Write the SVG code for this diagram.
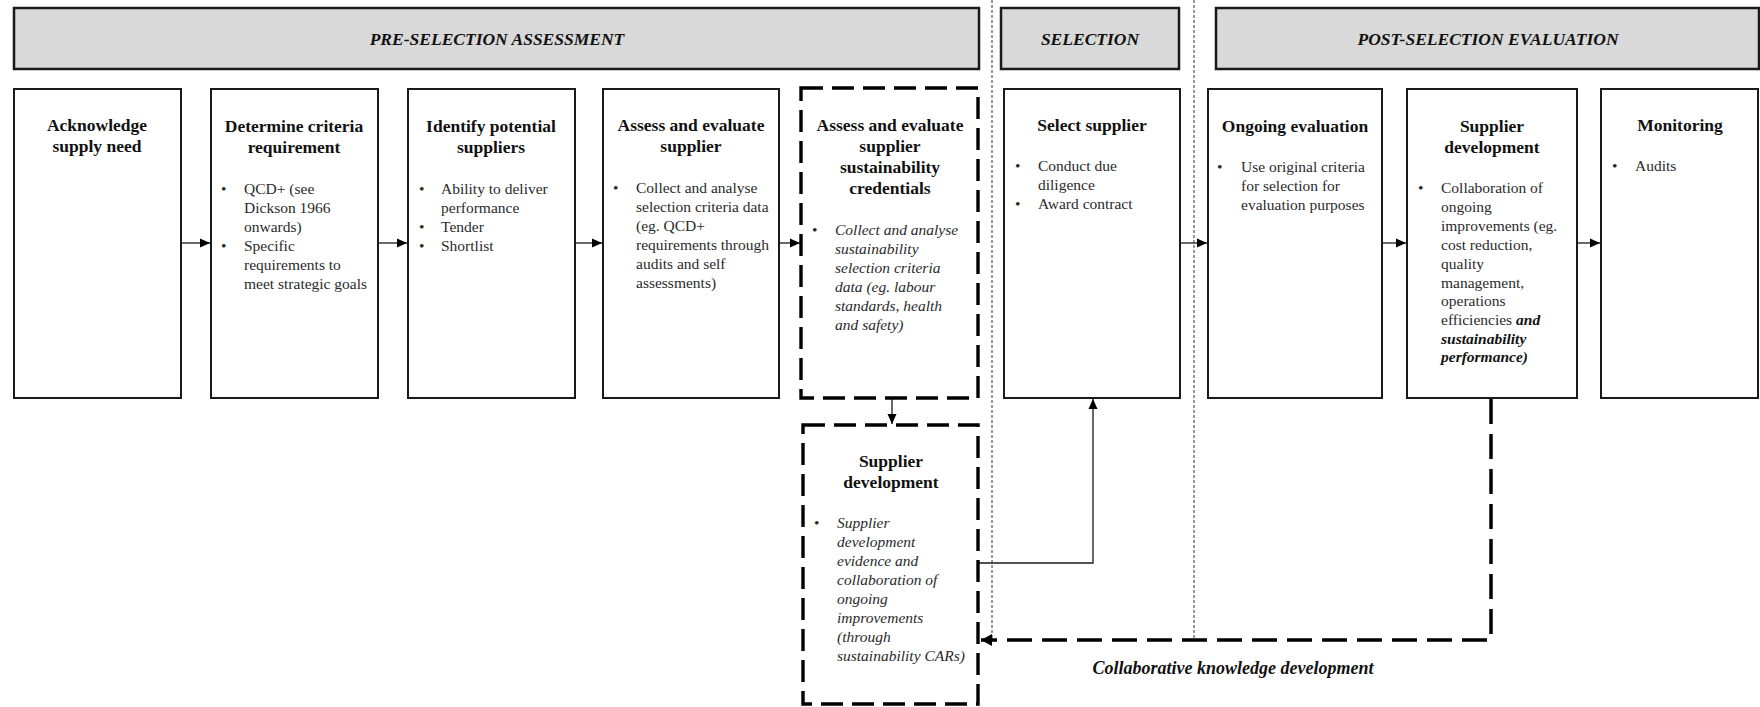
<svg xmlns="http://www.w3.org/2000/svg" width="1760" height="707" viewBox="0 0 1760 707">
<defs>
<style>
.hdr{fill:#d9d9d9;stroke:#1a1a1a;stroke-width:2.5}
.box{fill:#fff;stroke:#1a1a1a;stroke-width:2}
.dbox{fill:#fff;stroke:#000;stroke-width:3.4;stroke-dasharray:22 9}
.ht{font-family:"Liberation Serif",serif;font-size:17.5px;font-weight:bold;font-style:italic;fill:#111;text-anchor:middle}
.t{font-family:"Liberation Serif",serif;font-size:17.5px;font-weight:bold;fill:#111;text-anchor:middle}
.b{font-family:"Liberation Serif",serif;font-size:15.5px;fill:#2a2a2a}
.i{font-style:italic}
.bi{font-weight:bold;font-style:italic;fill:#111}
.lbl{font-family:"Liberation Serif",serif;font-size:18px;font-weight:bold;font-style:italic;fill:#111;text-anchor:middle}
.ln{fill:none;stroke:#1a1a1a;stroke-width:1.3}
.fb{fill:none;stroke:#000;stroke-width:3.5;stroke-dasharray:25 10}
.dot{fill:none;stroke:#333;stroke-width:1;stroke-dasharray:3 2}
</style>
<marker id="ah" markerUnits="userSpaceOnUse" markerWidth="12" markerHeight="12" refX="10" refY="6" orient="auto">
<path d="M0,1.5 L10,6 L0,10.5 z" fill="#000"/>
</marker>
<marker id="ahb" markerUnits="userSpaceOnUse" markerWidth="12" markerHeight="14" refX="11" refY="7" orient="auto">
<path d="M0,1 L11,7 L0,13 z" fill="#000"/>
</marker>
</defs>
<rect width="1760" height="707" fill="#fff"/>

<g id="dividers">
<line class="dot" x1="992" y1="0" x2="992" y2="640"/>
<line class="dot" x1="1194" y1="0" x2="1194" y2="640"/>
</g>

<g id="header-pre">
<rect class="hdr" x="14" y="8" width="965" height="61"/>
<text class="ht" x="497" y="45">PRE-SELECTION ASSESSMENT</text>
</g>
<g id="header-sel">
<rect class="hdr" x="1001" y="8" width="178" height="61"/>
<text class="ht" x="1090" y="45">SELECTION</text>
</g>
<g id="header-post">
<rect class="hdr" x="1216" y="8" width="543" height="61"/>
<text class="ht" x="1488" y="45">POST-SELECTION EVALUATION</text>
</g>

<g id="connectors">
<line class="ln" x1="181" y1="243" x2="210" y2="243" marker-end="url(#ah)"/>
<line class="ln" x1="378" y1="243" x2="407" y2="243" marker-end="url(#ah)"/>
<line class="ln" x1="575" y1="243" x2="602" y2="243" marker-end="url(#ah)"/>
<line class="ln" x1="779" y1="243" x2="800" y2="243" marker-end="url(#ah)"/>
<line class="ln" x1="1181" y1="243" x2="1207" y2="243" marker-end="url(#ah)"/>
<line class="ln" x1="1383" y1="243" x2="1406" y2="243" marker-end="url(#ah)"/>
<line class="ln" x1="1578" y1="243" x2="1600" y2="243" marker-end="url(#ah)"/>
<line class="ln" x1="892" y1="399" x2="892" y2="424" marker-end="url(#ah)"/>
<polyline class="ln" points="979,563 1093,563 1093,399" marker-end="url(#ah)"/>
<polyline class="fb" points="1491,399 1491,640 981,640" marker-end="url(#ahb)"/>
<text class="lbl" x="1233" y="674">Collaborative knowledge development</text>
</g>

<g id="n1">
<rect class="box" x="14" y="89" width="167" height="309"/>
<text class="t" x="97" y="131">Acknowledge</text>
<text class="t" x="97" y="152">supply need</text>
</g>

<g id="n2">
<rect class="box" x="211" y="89" width="167" height="309"/>
<text class="t" x="294" y="132">Determine criteria</text>
<text class="t" x="294" y="153">requirement</text>
<g class="b">
<text x="221" y="194">•</text><text x="244" y="194">QCD+ (see</text>
<text x="244" y="213">Dickson 1966</text>
<text x="244" y="232">onwards)</text>
<text x="221" y="251">•</text><text x="244" y="251">Specific</text>
<text x="244" y="270">requirements to</text>
<text x="244" y="289">meet strategic goals</text>
</g>
</g>

<g id="n3">
<rect class="box" x="408" y="89" width="167" height="309"/>
<text class="t" x="491" y="132">Identify potential</text>
<text class="t" x="491" y="153">suppliers</text>
<g class="b">
<text x="419" y="194">•</text><text x="441" y="194">Ability to deliver</text>
<text x="441" y="213">performance</text>
<text x="419" y="232">•</text><text x="441" y="232">Tender</text>
<text x="419" y="251">•</text><text x="441" y="251">Shortlist</text>
</g>
</g>

<g id="n4">
<rect class="box" x="603" y="89" width="176" height="309"/>
<text class="t" x="691" y="131">Assess and evaluate</text>
<text class="t" x="691" y="152">supplier</text>
<g class="b">
<text x="613" y="193">•</text><text x="636" y="193">Collect and analyse</text>
<text x="636" y="212">selection criteria data</text>
<text x="636" y="231">(eg. QCD+</text>
<text x="636" y="250">requirements through</text>
<text x="636" y="269">audits and self</text>
<text x="636" y="288">assessments)</text>
</g>
</g>

<g id="n5">
<rect class="dbox" x="801" y="88" width="177" height="310"/>
<text class="t" x="890" y="131">Assess and evaluate</text>
<text class="t" x="890" y="152">supplier</text>
<text class="t" x="890" y="173">sustainability</text>
<text class="t" x="890" y="194">credentials</text>
<g class="b">
<text x="812" y="235">•</text>
<text class="i" x="835" y="235">Collect and analyse</text>
<text class="i" x="835" y="254">sustainability</text>
<text class="i" x="835" y="273">selection criteria</text>
<text class="i" x="835" y="292">data (eg. labour</text>
<text class="i" x="835" y="311">standards, health</text>
<text class="i" x="835" y="330">and safety)</text>
</g>
</g>

<g id="n6">
<rect class="dbox" x="803" y="425" width="175" height="279"/>
<text class="t" x="891" y="467">Supplier</text>
<text class="t" x="891" y="488">development</text>
<g class="b">
<text x="814" y="528">•</text>
<text class="i" x="837" y="528">Supplier</text>
<text class="i" x="837" y="547">development</text>
<text class="i" x="837" y="566">evidence and</text>
<text class="i" x="837" y="585">collaboration of</text>
<text class="i" x="837" y="604">ongoing</text>
<text class="i" x="837" y="623">improvements</text>
<text class="i" x="837" y="642">(through</text>
<text class="i" x="837" y="661">sustainability CARs)</text>
</g>
</g>

<g id="n7">
<rect class="box" x="1004" y="89" width="176" height="309"/>
<text class="t" x="1092" y="131">Select supplier</text>
<g class="b">
<text x="1015" y="171">•</text><text x="1038" y="171">Conduct due</text>
<text x="1038" y="190">diligence</text>
<text x="1015" y="209">•</text><text x="1038" y="209">Award contract</text>
</g>
</g>

<g id="n8">
<rect class="box" x="1208" y="89" width="174" height="309"/>
<text class="t" x="1295" y="132">Ongoing evaluation</text>
<g class="b">
<text x="1217" y="172">•</text><text x="1241" y="172">Use original criteria</text>
<text x="1241" y="191">for selection for</text>
<text x="1241" y="210">evaluation purposes</text>
</g>
</g>

<g id="n9">
<rect class="box" x="1407" y="89" width="170" height="309"/>
<text class="t" x="1492" y="132">Supplier</text>
<text class="t" x="1492" y="153">development</text>
<g class="b">
<text x="1418" y="193">•</text><text x="1441" y="193">Collaboration of</text>
<text x="1441" y="212">ongoing</text>
<text x="1441" y="231">improvements (eg.</text>
<text x="1441" y="250">cost reduction,</text>
<text x="1441" y="269">quality</text>
<text x="1441" y="288">management,</text>
<text x="1441" y="306">operations</text>
<text x="1441" y="325">efficiencies <tspan class="bi">and</tspan></text>
<text class="bi" x="1441" y="344">sustainability</text>
<text class="bi" x="1441" y="362">performance)</text>
</g>
</g>

<g id="n10">
<rect class="box" x="1601" y="89" width="157" height="309"/>
<text class="t" x="1680" y="131">Monitoring</text>
<g class="b">
<text x="1612" y="171">•</text><text x="1635" y="171">Audits</text>
</g>
</g>
</svg>
